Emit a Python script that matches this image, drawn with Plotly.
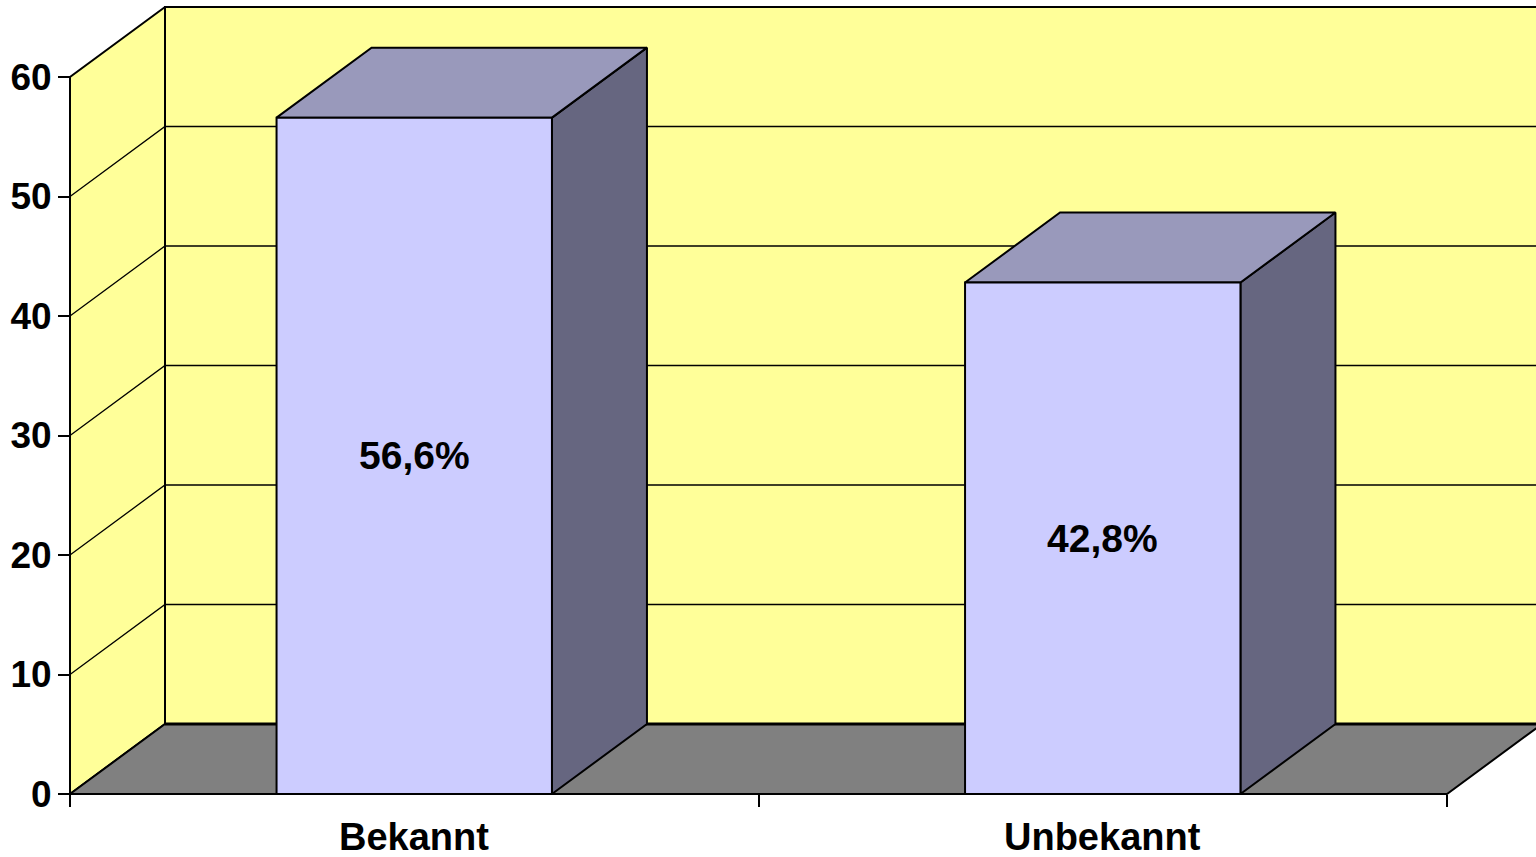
import plotly.graph_objects as go

# data
categories = ["Bekannt", "Unbekannt"]
values = [56.6, 42.8]
y_ticks = [0, 10, 20, 30, 40, 50, 60]

# projection geometry (pixels)
W, H = 1536, 857
X0_PX, Y0_PX = 70, 794       # front origin of the chart
CAT_PX = 688.5               # width of one category
UNIT_PX = 11.95              # pixels per value unit
DX = 95 / CAT_PX             # depth offset, x units
DY = 70 / UNIT_PX            # depth offset, value units
BAR_HALF = 0.2
YMAX = y_ticks[-1]

YELLOW = "#FFFF99"
FLOOR = "#808080"
FRONT = "#CCCCFF"
TOP = "#9999BB"
SIDE = "#666680"

x_lo = -X0_PX / CAT_PX
x_hi = (W - X0_PX) / CAT_PX
y_lo = -(H - Y0_PX) / UNIT_PX
y_hi = Y0_PX / UNIT_PX
x_far = x_hi + 0.2


def poly(fig, xs, ys, fill, lw=2):
    '''polygone rempli, contour noir'''
    fig.add_trace(go.Scatter(x=xs + xs[:1], y=ys + ys[:1], mode="lines",
                             fill="toself", fillcolor=fill,
                             line=dict(color="black", width=lw),
                             hoverinfo="skip", showlegend=False))


def line(fig, xs, ys, lw=1.3):
    fig.add_trace(go.Scatter(x=xs, y=ys, mode="lines",
                             line=dict(color="black", width=lw),
                             hoverinfo="skip", showlegend=False))


fig = go.Figure()

# walls
poly(fig, [0, DX, DX, 0], [0, DY, YMAX + DY, YMAX], YELLOW)
poly(fig, [DX, x_far, x_far, DX], [DY, DY, YMAX + DY, YMAX + DY], YELLOW)
for t in y_ticks[1:-1]:
    line(fig, [0, DX, x_far], [t, t + DY, t + DY])

# floor
n = len(categories)
poly(fig, [0, n, n + DX, DX], [0, 0, DY, DY], FLOOR)
line(fig, [DX, x_far], [DY, DY], lw=3)

# bars
annotations = []
for i, v in enumerate(values):
    xc = i + 0.5
    xl, xr = xc - BAR_HALF, xc + BAR_HALF
    poly(fig, [xr, xr + DX, xr + DX, xr], [0, DY, v + DY, v], SIDE)
    poly(fig, [xl, xr, xr + DX, xl + DX], [v, v, v + DY, v + DY], TOP)
    poly(fig, [xl, xr, xr, xl], [0, 0, v, v], FRONT)
    annotations.append(dict(x=xc, y=v / 2,
                            text=f"{v:.1f}".replace(".", ",") + "%",
                            showarrow=False, xref="x", yref="y",
                            font=dict(size=39, color="black", weight="bold")))
    annotations.append(dict(x=xc, y=-(837 - Y0_PX) / UNIT_PX, text=categories[i],
                            showarrow=False, xref="x", yref="y",
                            font=dict(size=38, color="black", weight="bold")))

fig.update_layout(
    width=W, height=H,
    margin=dict(l=0, r=0, t=0, b=0),
    paper_bgcolor="white", plot_bgcolor="white",
    font=dict(family="Liberation Sans, Arial, sans-serif", color="black"),
    annotations=annotations,
    xaxis=dict(range=[x_lo, x_hi], domain=[0, 1], anchor="free",
               position=(H - Y0_PX) / H, automargin=False,
               tickvals=list(range(n + 1)), showticklabels=False,
               ticks="outside", ticklen=12, tickwidth=2, tickcolor="black",
               showgrid=False, zeroline=False, showline=False),
    yaxis=dict(range=[y_lo, y_hi], domain=[0, 1], anchor="free",
               position=X0_PX / W, automargin=False,
               tickvals=y_ticks, ticks="outside", ticklen=12, tickwidth=2,
               tickcolor="black", ticklabelstandoff=-1,
               tickfont=dict(size=37, color="black", weight="bold"),
               showgrid=False, zeroline=False, showline=False),
)

# page without body margin, so the figure fills the window
fig.write_html("out.html", config={"displayModeBar": False},
               post_script="document.body.style.margin='0';"
                           "document.body.style.overflow='hidden';")
